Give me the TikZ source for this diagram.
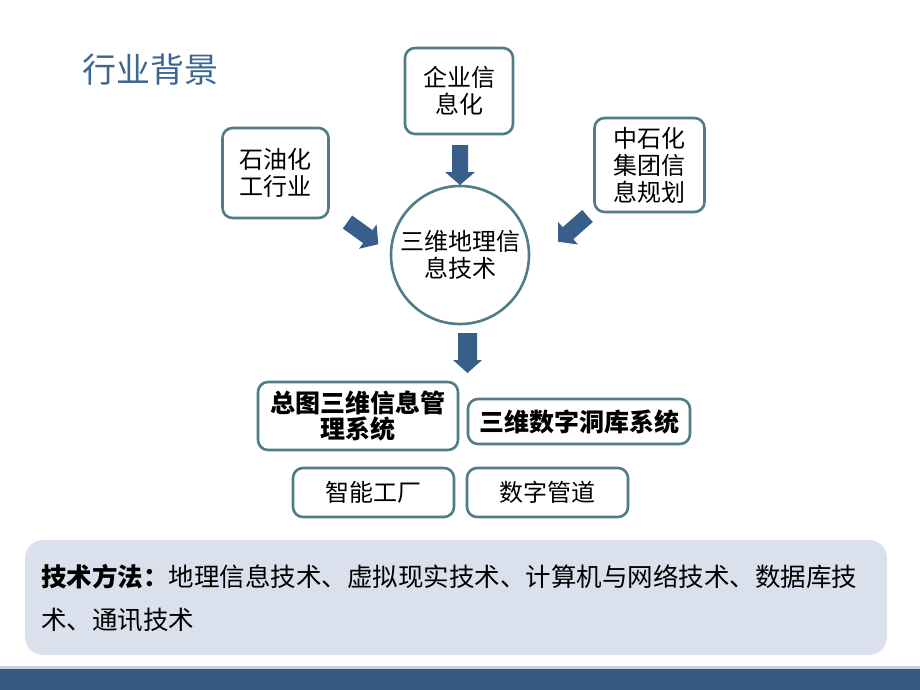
\documentclass[tikz,border=0pt]{standalone}
\usepackage{fontspec}
\setmainfont{Noto Sans CJK SC}
\definecolor{bordc}{RGB}{80,124,134}
\definecolor{arrc}{RGB}{56,94,138}
\definecolor{titc}{RGB}{60,103,146}
\definecolor{panelc}{RGB}{218,225,236}
\definecolor{barc}{RGB}{54,90,128}
\definecolor{rulec}{RGB}{200,208,218}
\newcommand{\blockarr}[5]{%
\begin{scope}[shift={#1}, rotate=#2]
\fill[arrc] (0,-#4) -- ({#3-13},-#4) -- ({#3-13},-#5) -- (#3,0) -- ({#3-13},#5) -- ({#3-13},#4) -- (0,#4) -- cycle;
\end{scope}}
\begin{document}
\begin{tikzpicture}[x=1pt,y=-1pt,
  box/.style={draw=bordc, line width=2.6pt, rounded corners=10pt, align=center, inner sep=0pt, font=\fontsize{24}{27}\selectfont},
  boldbox/.style={box, font=\fontsize{25}{26}\selectfont\bfseries},
  circ/.style={draw=bordc, line width=2.6pt, circle, align=center, inner sep=0pt, minimum size=138pt, font=\fontsize{24}{27}\selectfont},
  panel/.style={fill=panelc, rounded corners=18pt, inner sep=0pt}]
\useasboundingbox (0,0) rectangle (920,690);
% title
\node[text=titc, font=\fontsize{34}{36}\selectfont] (title) at (150,70) {行业背景};
% top boxes
\node[box, minimum width=108pt, minimum height=86pt] (qy) at (459,91) {企业信\\息化};
\node[box, minimum width=106pt, minimum height=90pt] (sy) at (275.5,173) {石油化\\工行业};
\node[box, minimum width=110pt, minimum height=94pt] (zsh) at (649.5,165) {中石化\\集团信\\息规划};
% circle
\node[circ] (geo) at (460,255) {三维地理信\\息技术};
% arrows
\blockarr{(460,145)}{-90}{40}{8}{15}
\blockarr{(347.5,222)}{-35.8}{38}{8}{15}
\blockarr{(587.5,216)}{221.4}{39}{8}{15}
\blockarr{(467.5,333)}{-90}{40}{9.5}{14.5}
% lower boxes
\node[boldbox, minimum width=200pt, minimum height=68pt] (zt) at (358,416) {总图三维信息管\\理系统};
\node[boldbox, minimum width=222pt, minimum height=45pt] (dk) at (579,421.5) {三维数字洞库系统};
\node[box, minimum width=161pt, minimum height=49pt] (zn) at (373.5,492.5) {智能工厂};
\node[box, minimum width=161pt, minimum height=49pt] (gd) at (547.5,492.5) {数字管道};
% panel
\node[panel, minimum width=862pt, minimum height=115pt] (panel) at (456,597.5) {};
\node[anchor=west, align=left, inner sep=0pt, font=\fontsize{25.5}{43}\selectfont] (tech) at (41,598.5)
  {\textbf{技术方法：}地理信息技术、虚拟现实技术、计算机与网络技术、数据库技\\术、通讯技术};
% bottom bar
\fill[rulec] (0,666) rectangle (920,669);
\fill[barc] (0,669) rectangle (920,690);
\end{tikzpicture}
\end{document}
